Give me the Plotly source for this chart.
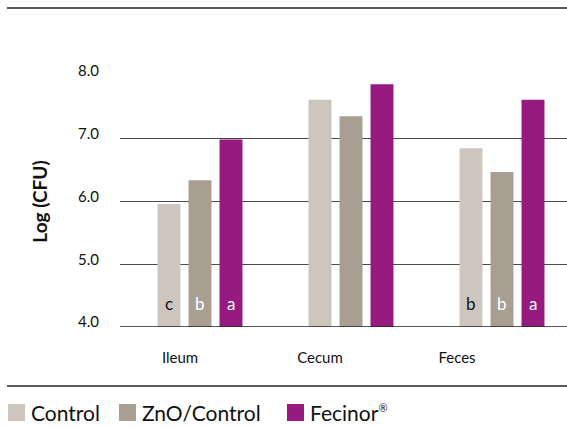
import plotly.graph_objects as go

categories = ["Ileum", "Cecum", "Feces"]
series_names = ["Control", "ZnO/Control", "Fecinor®"]
control = [5.96, 7.62, 6.85]
zno = [6.34, 7.36, 6.47]
fecinor = [6.99, 7.87, 7.62]
letters_control = ["c", "", "b"]
letters_zno = ["b", "", "b"]
letters_fecinor = ["a", "", "a"]
y_ticks = [4.0, 5.0, 6.0, 7.0, 8.0]
y_tick_labels = ["4.0", "5.0", "6.0", "7.0", "8.0"]

colors = ["#cdc6bf", "#a89e92", "#961a80"]
letter_colors = ["#111111", "#ffffff", "#ffffff"]
FONT = "Lato, 'Open Sans', sans-serif"

W, H = 567, 427
L, R, T, B = 120, 0, 76, 100
bargap = 0.384
plot_w = W - L - R
plot_h = H - T - B

x_pos = list(range(len(categories)))

fig = go.Figure()
all_vals = [control, zno, fecinor]
all_letters = [letters_control, letters_zno, letters_fecinor]
for name, vals, col in zip(series_names, all_vals, colors):
    fig.add_trace(go.Bar(x=x_pos, y=vals, name=name, marker_color=col,
                         marker_line_width=0, showlegend=False, hoverinfo="skip"))

slot = (1 - bargap) / 3
annotations = []
for si, (lets, lc) in enumerate(zip(all_letters, letter_colors)):
    for ci, let in enumerate(lets):
        if let:
            annotations.append(dict(x=x_pos[ci] + (si - 1) * slot, y=4.37, xref="x", yref="y",
                                    text=let, showarrow=False,
                                    font=dict(size=17, color=lc, family=FONT)))

# x extent so that categories sit at the reference positions
px_per_cat = 151.0
x0 = -(200 - L) / px_per_cat
x1 = 2 + (W - 200 - 2 * px_per_cat) / px_per_cat

# category label positions (pixel centres in reference -> axis units)
label_px = [180, 320, 457]
label_vals = [(p - 200) / px_per_cat for p in label_px]

def px_x(p):
    return (p - L) / plot_w

def px_y(p):
    return (H - B - p) / plot_h

shapes = [
    dict(type="line", xref="paper", yref="paper",
         x0=px_x(7), x1=1.0, y0=px_y(8), y1=px_y(8),
         line=dict(color="#222222", width=1.3)),
    dict(type="line", xref="paper", yref="paper",
         x0=px_x(7), x1=1.0, y0=px_y(386), y1=px_y(386),
         line=dict(color="#222222", width=1.3)),
    dict(type="line", xref="paper", yref="y", x0=0, x1=1, y0=4, y1=4,
         line=dict(color="#222222", width=1.5), layer="above"),
]

# manual legend
legend_sq_x = [8, 119, 287]
legend_text = ["Control", "ZnO/Control",
               "Fecinor<sup><span style='font-size:11px'>®</span></sup>"]
for sx, col, txt in zip(legend_sq_x, colors, legend_text):
    shapes.append(dict(type="rect", xref="paper", yref="paper",
                       x0=px_x(sx), x1=px_x(sx + 17), y0=px_y(421), y1=px_y(404),
                       fillcolor=col, line=dict(width=0)))
    annotations.append(dict(x=px_x(sx + 21), y=px_y(412.5), xref="paper", yref="paper",
                            xanchor="left", yanchor="middle", text=txt, showarrow=False,
                            font=dict(size=21, color="#111111", family=FONT)))

fig.update_layout(
    width=W, height=H,
    margin=dict(l=L, r=R, t=T, b=B, autoexpand=False),
    paper_bgcolor="white", plot_bgcolor="white",
    barmode="group", bargap=bargap, bargroupgap=0.26,
    font=dict(family=FONT, color="#111111"),
    showlegend=False,
    hovermode=False,
    annotations=annotations,
    shapes=shapes,
    xaxis=dict(range=[x0, x1], showgrid=False, zeroline=False,
               tickvals=label_vals, ticktext=categories,
               showline=False, ticks="", ticklabelstandoff=20,
               tickfont=dict(size=15, color="#111111")),
    yaxis=dict(range=[4, 8], tickvals=y_ticks, ticktext=y_tick_labels,
               showgrid=True, gridcolor="#4a4a4a", gridwidth=1.1,
               zeroline=False, showline=False, ticks="",
               tickfont=dict(size=15, color="#111111"), ticklabelstandoff=20,
               ticklabelshift=-5,
               title=dict(text="<b>Log (CFU)</b>", font=dict(size=19, color="#111111"),
                          standoff=25)),
)

fig.write_html("out.html", config={"displayModeBar": False},
               post_script="document.body.style.margin='0px';document.body.style.overflow='hidden';")
